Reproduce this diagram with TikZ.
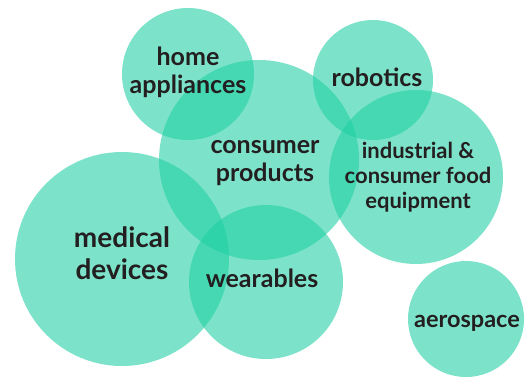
\documentclass[tikz,border=0pt]{standalone}
\usepackage{fontspec}
\setmainfont{Lato}
\usetikzlibrary{positioning}
\definecolor{bubble}{RGB}{30,207,163}
\definecolor{ink}{RGB}{35,31,32}

\begin{document}
\begin{tikzpicture}[x=1pt, y=-1pt, outer sep=0,
    bubble/.style={circle, minimum size=#1, inner sep=0, fill=bubble, fill opacity=0.58},
    tag/.style={align=center, inner sep=0, text=ink, font=\bfseries\fontsize{25}{28}\selectfont}]
        \useasboundingbox (0,0) rectangle (529,377);
        % middle bubbles
        \node [bubble=200pt, label={[tag, xshift=6pt, yshift=-3pt]center:{consumer\\products}}] (consumer) at (259,160) {};
        \node [bubble=120pt, label={[tag, xshift=4pt, yshift=3pt]center:robotics}] (robotics) at (373,80) {};
        \node [bubble=174pt, label={[tag, xshift=2pt, font=\bfseries\fontsize{22}{25}\selectfont]center:{industrial \&\\consumer food\\equipment}}] (food) at (416,177) {};
        % lower left bubbles
        \node [bubble=214pt, label={[tag, yshift=6pt, font=\bfseries\fontsize{28}{32}\selectfont]center:{medical\\devices}}] (medical) at (122,259) {};
        \node [bubble=154pt, label={[tag, xshift=-4pt, yshift=4pt]center:wearables}] (wearables) at (266,282) {};
        % top left and corner bubbles
        \node [bubble=132pt, label={[tag, yshift=2pt]center:{home\\appliances}}] (home) at (188,74) {};
        \node [bubble=116pt, label={[tag, xshift=1pt, yshift=-4pt, font=\bfseries\fontsize{23.5}{28}\selectfont]center:aerospace}] (aerospace) at (466,319) {};
    \end{tikzpicture}
\end{document}
